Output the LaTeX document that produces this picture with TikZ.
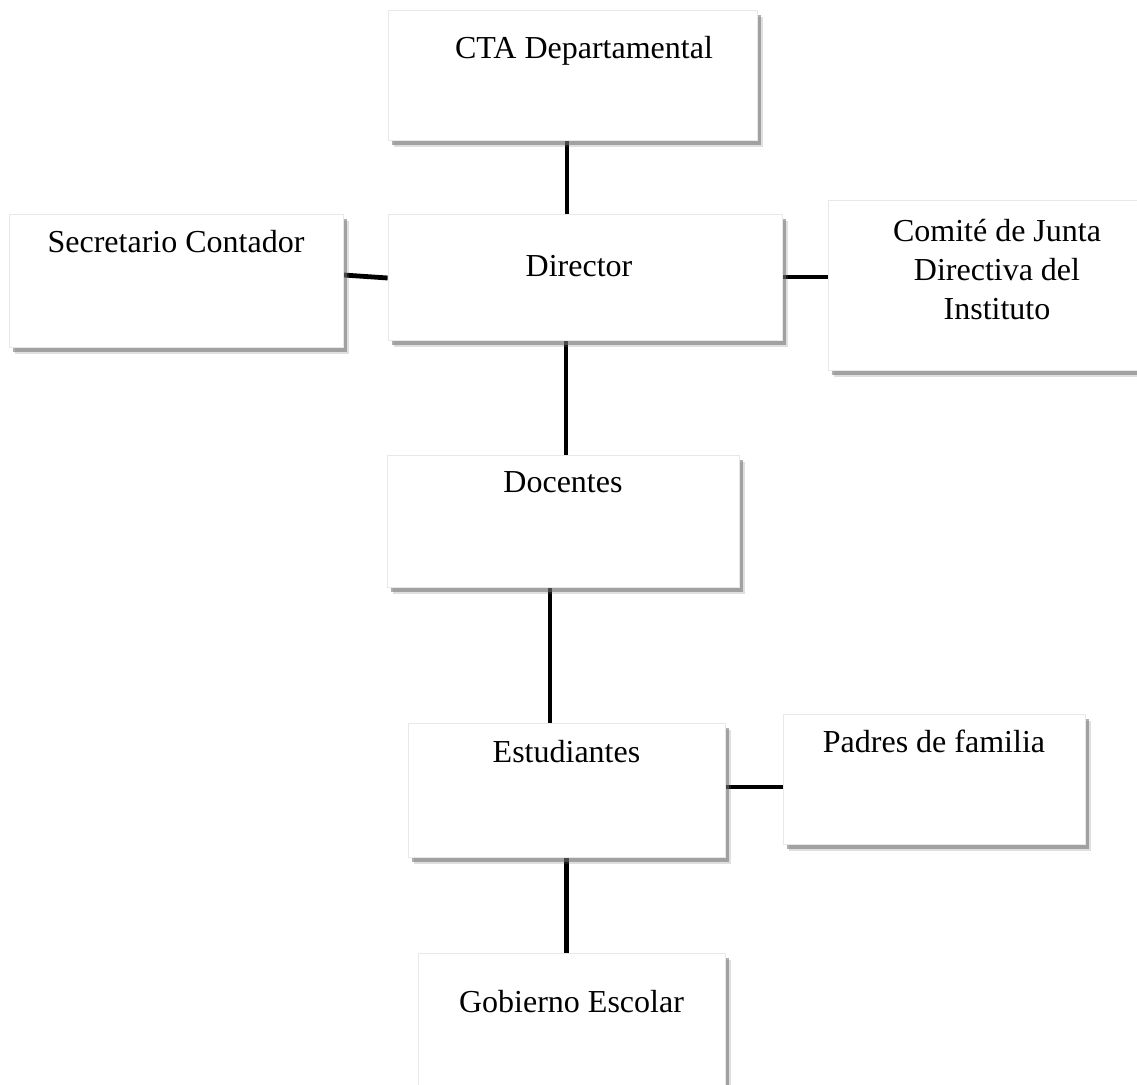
\documentclass[tikz,border=0pt]{standalone}
\usepackage{fontspec}
\setmainfont{Liberation Serif}
\usetikzlibrary{
  positioning,
  shadows,
  backgrounds
}
\definecolor{ShadowGray}{RGB}{110,110,110}
\definecolor{EdgeGray}{RGB}{232,232,232}
\tikzset{
  orgbox/.style={draw=EdgeGray,fill=white,inner sep=0pt,
    drop shadow={shadow xshift=3pt,shadow yshift=-3.6pt,fill=ShadowGray,opacity=.22},
    drop shadow={shadow xshift=1.8pt,shadow yshift=-2.3pt,fill=ShadowGray,opacity=.55}},
  orglabel/.style={anchor=base,inner sep=0pt,align=center,font=\fontsize{16pt}{19.5pt}\selectfont},
  orgline/.style={line width=2.4pt,draw=black}
}
\begin{document}
\begin{tikzpicture}[x=0.5pt,y=-0.5pt]
\useasboundingbox (0,0) rectangle (1137,1085);
% boxes
\node[orgbox, minimum width=184.5pt, minimum height=65pt] (cta) at (572.5,75) {};
\node[orgbox, minimum width=167pt, minimum height=66.5pt] (sec) at (176,280.5) {};
\node[orgbox, minimum width=197pt, minimum height=63pt] (dir) at (585,277) {};
\node[orgbox, minimum width=169pt, minimum height=85pt] (com) at (997,285) {};
\node[orgbox, minimum width=176pt, minimum height=66pt] (doc) at (563,521) {};
\node[orgbox, minimum width=158.5pt, minimum height=67pt] (est) at (566.5,790) {};
\node[orgbox, minimum width=151pt, minimum height=65pt] (pad) at (934,779) {};
\node[orgbox, minimum width=153.5pt, minimum height=77pt] (gob) at (571.5,1030) {};

% texts
\node[orglabel] (ctatext) at ([xshift=5.75pt,yshift=-24.5pt]cta.north) {CTA Departamental};
\node[orglabel] (sectext) at ([yshift=-19.5pt]sec.north) {Secretario Contador};
\node[orglabel] (dirtext) at ([xshift=-3pt,yshift=-31.5pt]dir.north) {Director};
\node[orglabel] (comtext) at ([yshift=-60pt]com.north) {Comité de Junta\\Directiva del\\Instituto};
\node[orglabel] (doctext) at ([yshift=-19pt]doc.north) {Docentes};
\node[orglabel] (esttext) at ([yshift=-20pt]est.north) {Estudiantes};
\node[orglabel] (padtext) at ([yshift=-19.5pt]pad.north) {Padres de familia};
\node[orglabel] (gobtext) at ([yshift=-30pt]gob.north) {Gobierno Escolar};

% connectors
\begin{scope}[on background layer]
\draw[orgline] ([xshift=-2.75pt]cta.south) -- ([xshift=-2.75pt]cta.south |- dir.north);
\draw[orgline] ([yshift=2.75pt]sec.east) -- ([yshift=-0.5pt]dir.west);
\draw[orgline] (dir.east) -- (dir.east -| com.west);
\draw[orgline] ([xshift=-9.5pt]dir.south) -- ([xshift=-9.5pt]dir.south |- doc.north);
\draw[orgline] ([xshift=-6.5pt]doc.south) -- ([xshift=-6.5pt]doc.south |- est.north);
\draw[orgline] ([yshift=1.5pt]est.east) -- ([yshift=1.5pt]est.east -| pad.west);
\draw[orgline] (est.south) -- (est.south |- gob.north);
\end{scope}
\end{tikzpicture}
\end{document}
